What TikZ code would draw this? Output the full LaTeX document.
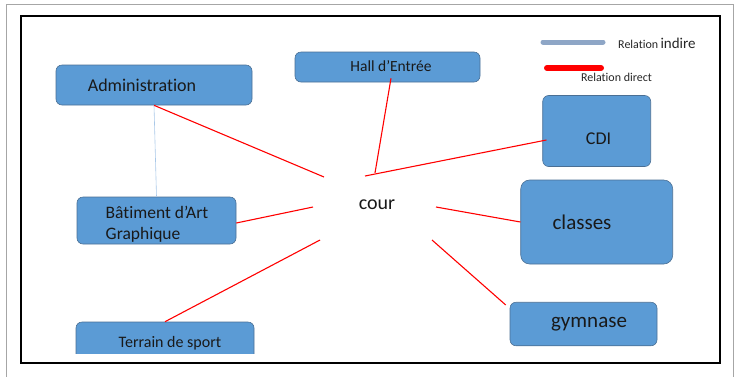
\documentclass[tikz,border=0pt]{standalone}
\usepackage{fontspec}
\setmainfont{Carlito}[Ligatures=NoCommon]
\usetikzlibrary{calc}
\definecolor{boxfill}{HTML}{5B9BD5}
\definecolor{boxline}{HTML}{4A6F94}
\definecolor{indir}{HTML}{8EA6C6}
\definecolor{thinblue}{HTML}{A9C8E8}
\tikzset{
  box/.style={draw=boxline, fill=boxfill, line width=0.6pt, rounded corners=6pt, inner sep=0pt},
  lbl/.style={inner sep=0pt, text=black!90, font=\fontsize{18}{21}\selectfont},
  direct/.style={draw=red, line width=1.1pt},
  indirect/.style={draw=thinblue, line width=0.6pt}
}
\begin{document}
\begin{tikzpicture}[x=1pt,y=-1pt]
\useasboundingbox (0,0) rectangle (735,376);
% frames
\draw[gray!70, line width=0.8pt] (6,380) -- (6,4.5) -- (733,4.5) -- (733,380);
\draw[black, line width=1.8pt] (21,16) rectangle (720,363);
% boxes
\node[box, minimum width=196pt, minimum height=40pt] (admin) at (154,85) {};
\node[box, minimum width=159pt, minimum height=47pt] (bati) at (156.5,220.5) {};
\begin{scope}
\clip (0,0) rectangle (735,353.5);
\node[box, minimum width=178pt, minimum height=62pt] (terrain) at (165,353) {};
\end{scope}
\node[box, minimum width=185pt, minimum height=30pt] (hall) at (387.5,67) {};
\node[box, minimum width=108pt, minimum height=71pt] (cdi) at (596.7,131) {};
\node[box, minimum width=152pt, minimum height=84pt, rounded corners=9pt] (classes) at (596.7,222) {};
\node[box, minimum width=147pt, minimum height=43.5pt] (gym) at (583.5,324) {};
% texts
\node[lbl] (admint) at (142,85) {Administration};
\node[lbl, align=left, font=\fontsize{17.5}{21}\selectfont] (batit) at (157,224.5) {Bâtiment d’Art\\Graphique};
\node[lbl, font=\fontsize{16}{19}\selectfont] (terraint) at (170,343) {Terrain de sport};
\node[lbl, font=\fontsize{15.5}{18}\selectfont] (hallt) at (391,66) {Hall d’Entrée};
\node[lbl] (cdit) at (598.5,139) {CDI};
\node[lbl, font=\fontsize{21}{24}\selectfont] (classest) at (582,222) {classes};
\node[lbl, font=\fontsize{21}{24}\selectfont] (gymt) at (589,324) {gymnase};
\node[lbl, font=\fontsize{20}{23}\selectfont] (cour) at (377,205) {cour};
% free ends near cour
\coordinate (c1) at (324,177);
\coordinate (c2) at (375,173);
\coordinate (c3) at (365,176);
\coordinate (c4) at (313,207);
\coordinate (c5) at (320,240);
\coordinate (c6) at (436,207);
\coordinate (c7) at (432,240);
% connectors
\draw[indirect] (admin.south) -- (bati.north);
\draw[direct] (admin.south) -- (c1);
\draw[direct] ($(hall.south)+(3.5,-4)$) -- (c2);
\draw[direct] (c3) -- ($(cdi.west)+(4,9)$);
\draw[direct] (bati.east) ++(0,2.5) -- (c4);
\draw[direct] (terrain.north) -- (c5);
\draw[direct] (c6) -- (classes.west);
\draw[direct] (c7) -- ($(gym.north west)+(-4,3)$);
% legend
\coordinate (la1) at (543,42);
\coordinate (la2) at (603,42);
\draw[indir, line width=5pt, line cap=round] (la1) -- (la2);
\node[inner sep=0pt, anchor=west, text=black!85] (lega) at (618,43) {{\fontsize{12}{13}\selectfont Relation} {\fontsize{15}{16}\selectfont indire}};
\coordinate (lb1) at (547,68);
\coordinate (lb2) at (601,68);
\draw[red, line width=6pt, line cap=round] (lb1) -- (lb2);
\node[inner sep=0pt, text=black!85] (legb) at (616.5,77) {\fontsize{12}{13}\selectfont Relation direct};
\end{tikzpicture}
\end{document}
